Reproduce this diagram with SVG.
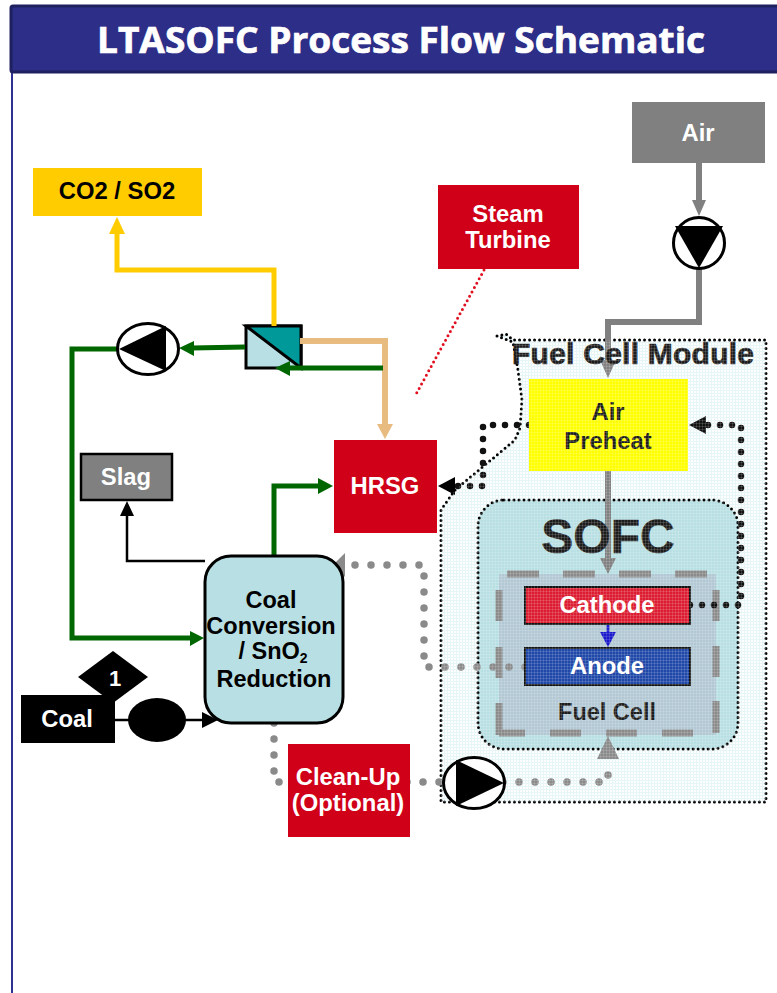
<svg xmlns="http://www.w3.org/2000/svg" width="777" height="993" viewBox="0 0 777 993">
<style>
text{font-family:"Liberation Sans",Arial,sans-serif;font-weight:700;text-anchor:middle}
.w{fill:#fff}.k{fill:#000}.d{fill:#1c1c1c}
.n{font-size:23.800px}
.c{fill:none}
.g{stroke:#006600;stroke-width:5}
.a{stroke:#808080;stroke-width:6}
.t{stroke:#e8bc80;stroke-width:6}
.y{stroke:#ffcc00;stroke-width:5}
.b{stroke:#000;stroke-width:2.500}
.dk{stroke:#111;stroke-width:6.500;stroke-linecap:round;stroke-dasharray:0 12}
.dg{stroke:#8a8a8a;stroke-width:7.500;stroke-linecap:round;stroke-dasharray:0 16}
.fr{stroke:#000;stroke-width:3;stroke-linecap:round;stroke-dasharray:0 5}
.p{fill:#fff;stroke:#000;stroke-width:3}
</style>
<defs>
<pattern id="mesh" width="3" height="3" patternUnits="userSpaceOnUse">
<path d="M0 .5H3M.5 0V3" stroke="#fff" stroke-width="1" opacity=".14" fill="none"/>
</pattern>
<pattern id="bg" width="3" height="3" patternUnits="userSpaceOnUse">
<rect width="3" height="3" fill="#fff"/>
<path d="M0 .5H3M.5 0V3" stroke="#e2f3f4" stroke-width="1" fill="none"/>
</pattern>
<clipPath id="mc"><path d="M513 340H766V802H441V510L455 490L515 440L520 428L522 400L518 370Z"/></clipPath>
</defs>

<g id="frame">
<rect x="11" y="72" width="2" height="921" fill="#2e3192"/>
<rect x="11" y="6" width="768" height="66" rx="2" fill="#2d2e87" stroke="#1f2060" stroke-width="3"/>
<text x="401" y="53" class="w" stroke="#fff" stroke-width=".7" style="font-family:'Open Sans',sans-serif;font-size:36px" textLength="608" lengthAdjust="spacingAndGlyphs">LTASOFC Process Flow Schematic</text>
</g>

<g id="fuel-cell-module">
<path d="M497 336L506 334L513 340H766V802H441V510L455 490L515 440L520 428L522 400L518 370L513 342L497 336" fill="url(#bg)" class="fr"/>
</g>
<g id="sofc">
<rect x="478" y="500" width="260" height="249" rx="26" fill="#b8dfe3" class="fr"/>
</g>
<g id="fuel-cell">
<rect x="499" y="574" width="217" height="161" fill="#b2c8d4"/>
<path d="M507 574H539M563 574H595M619 574H651M675 574H707M716 590V621M716 646V677M716 701V733M693 733H662M637 733H606M581 733H550M525 733H499M499 735V703M499 678V647M499 621V590" fill="none" stroke="#8a8a8a" stroke-width="7"/>
</g>
<g id="membrane">
<rect x="246" y="326" width="55" height="42" fill="#b8dfe3" stroke="#000" stroke-width="3"/>
<path d="M246 326H301V368Z" fill="#009999" stroke="#000" stroke-width="3"/>
</g>

<g id="connectors">
<path class="c y" d="M274 326V270H117V232"/>
<path d="M117 217L125 234H109Z" fill="#ffcc00"/>
<path class="c t" d="M300 341H385V426"/>
<path d="M385 439L377 424H393Z" fill="#e8bc80"/>
<path class="c g" d="M383 368H288"/>
<path d="M275 368L290 361V376Z" fill="#006600"/>
<path class="c g" d="M245 347L192 348"/>
<path d="M179 348L194 341V356Z" fill="#006600"/>
<path class="c g" d="M119 349H72V638H192"/>
<path d="M204 638L190 631V646Z" fill="#006600"/>
<path class="c g" d="M274 556V486H320"/>
<path d="M333 486L318 478V494Z" fill="#006600"/>
<path class="c b" d="M205 561H127V512"/>
<path d="M127 501L120 516H134Z"/>
<path class="c b" d="M115 720H205"/>
<path d="M218 720L202 712V728Z"/>
<path class="c a" d="M699 163V205"/>
<path d="M699 216L692 200H706Z" fill="#808080"/>
<path class="c a" d="M699 268V322H608V365"/>
<path d="M608 378L600 360H616Z" fill="#808080"/>
<path class="c a" d="M608 471V562"/>
<path d="M608 574L600 558H616Z" fill="#808080"/>
<path class="c" stroke="#2222cc" stroke-width="3" d="M608 624V638"/>
<path d="M608 647L600 632H616Z" fill="#1a1acc"/>
<path class="c" stroke="#e01020" stroke-width="3" stroke-linecap="round" stroke-dasharray="0 5" d="M484 270L415 396"/>
<path class="c dk" d="M529 425H483V486H452"/>
<path d="M438 486L455 477V495Z"/>
<path class="c dk" d="M690 605H741V425H702"/>
<path d="M689 425L706 416V434Z" fill="#111"/>
<path class="c dg" d="M525 667H424V565H350"/>
<path d="M333 565L345 553V577Z" fill="#8a8a8a"/>
<path class="c dg" d="M274 723V782H608V762"/>
<path d="M608 736L619 759H597Z" fill="#8a8a8a"/>
</g>

<g id="air"><rect x="632" y="102" width="133" height="61" fill="#808080"/><text x="698" y="141" class="w n">Air</text></g>
<g id="air-pump"><circle cx="699" cy="243" r="25.500" class="p"/><path d="M675 226H723L699 268Z"/></g>
<g id="co2-so2"><rect x="33" y="168" width="169" height="48" fill="#ffcc00"/><text x="117" y="199" class="k n">CO2 / SO2</text></g>
<g id="steam-turbine"><rect x="438" y="185" width="141" height="84" fill="#d00018"/><text x="508" y="222" class="w n">Steam</text><text x="508" y="248" class="w n">Turbine</text></g>
<g id="recycle-pump"><ellipse cx="148" cy="349" rx="30.500" ry="25.500" class="p"/><path d="M119 349L166 326V371Z"/></g>
<g id="slag"><rect x="81" y="454" width="91" height="46" fill="#808080" stroke="#000" stroke-width="2.500"/><text x="126" y="485" class="w n">Slag</text></g>
<g id="hrsg"><rect x="334" y="440" width="103" height="93" fill="#d00018"/><text x="385" y="494" class="w n">HRSG</text></g>
<g id="air-preheat"><rect x="529" y="379" width="159" height="92" fill="#ffff00"/><text x="608" y="420" class="d n">Air</text><text x="608" y="449" class="d n">Preheat</text></g>
<g id="sofc-label"><text x="608" y="553" class="d" font-size="48" stroke="#1c1c1c" stroke-width=".5">SOFC</text></g>
<g id="module-label"><text x="633" y="364" class="d" font-size="30" stroke="#1c1c1c" stroke-width=".7" textLength="242" lengthAdjust="spacing">Fuel Cell Module</text></g>
<g id="cathode"><rect x="525" y="587" width="165" height="37" fill="#dc1c30" stroke="#111" stroke-width="2"/><text x="607" y="613" class="w n">Cathode</text></g>
<g id="anode"><rect x="525" y="648" width="165" height="37" fill="#1f48a8" stroke="#111" stroke-width="2"/><text x="607" y="674" class="w n">Anode</text></g>
<g id="fuel-cell-label"><text x="607" y="720" class="d" style="font-size:23.500px">Fuel Cell</text></g>
<g id="coal-conversion">
<rect x="205" y="556" width="138" height="167" rx="26" fill="#b8dfe3" stroke="#000" stroke-width="3"/>
<text x="271" y="608" class="k" style="font-size:23.500px">Coal</text>
<text x="271" y="634" class="k" style="font-size:23.500px">Conversion</text>
<text x="273" y="659" class="k" style="font-size:23.500px">/ SnO<tspan dy="4" style="font-size:14px">2</tspan></text>
<text x="274" y="687" class="k" style="font-size:23.500px">Reduction</text>
</g>
<g id="clean-up"><rect x="288" y="744" width="122" height="93" fill="#d00018"/><text x="348" y="785" class="w n">Clean-Up</text><text x="348" y="811" class="w n">(Optional)</text></g>
<g id="coal"><rect x="21" y="695" width="94" height="48" fill="#000"/><text x="67" y="727" class="w n">Coal</text></g>
<g id="marker-1"><path d="M113 651L148 677L113 703L78 677Z"/><text x="115" y="686" class="w" style="font-size:22px">1</text></g>
<g id="coal-feeder"><ellipse cx="157" cy="720" rx="29" ry="22"/></g>
<rect x="438" y="335" width="339" height="470" fill="url(#mesh)" clip-path="url(#mc)"/>
<g id="gas-pump"><ellipse cx="474" cy="783" rx="30.500" ry="25.500" class="p"/><path d="M456 760L504 783L456 806Z"/></g>
</svg>
